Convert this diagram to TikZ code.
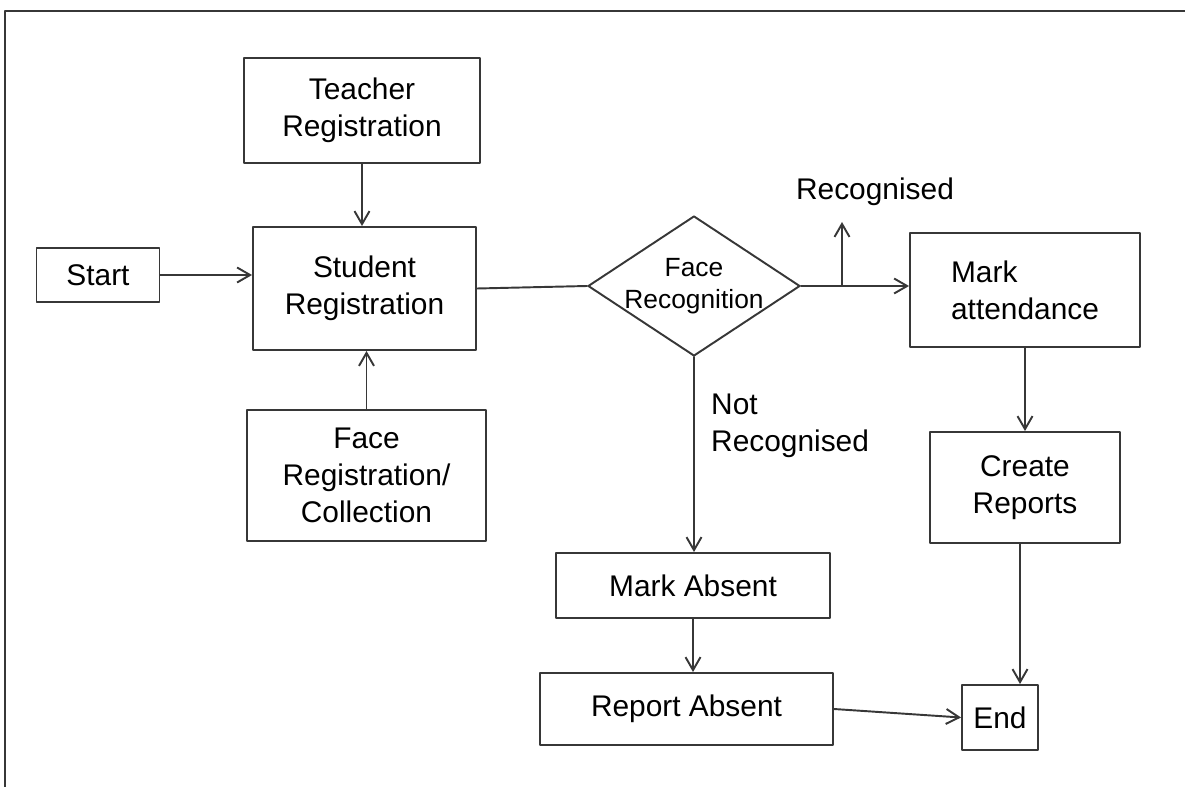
\documentclass[tikz,border=0pt]{standalone}
\usepackage{fontspec}
\setmainfont{Liberation Sans}
\usepackage{tikz}
\usetikzlibrary{arrows.meta, positioning, shapes, calc, shapes.geometric}
\definecolor{inkgray}{RGB}{55, 55, 55}
\tikzset{every node/.style={font=\fontsize{17}{21}\selectfont, text=black}, every path/.style={line cap=round, line join=round}, >={Straight Barb[length=2.6mm, width=3mm]}}
\tikzset{
    procbox/.style={draw=inkgray, line width=1.1pt, align=center, inner sep=2pt},
    decision/.style={draw=inkgray, line width=1.1pt, diamond, inner sep=0pt},
    flow/.style={draw=inkgray, line width=1.1pt}
}

\begin{document}
\begin{tikzpicture}
    \useasboundingbox (0,0) rectangle (23.7,-15.74);
    % frame of the page
    \coordinate (frameNW) at (0.1,-0.22);
    \coordinate (frameNE) at (23.7,-0.22);
    \coordinate (frameSW) at (0.1,-15.74);
    \draw [inkgray, line width=1pt] (frameSW) -- (frameNW) -- (frameNE);

    % boxes
    \node [procbox, minimum width=2.46cm, minimum height=1.08cm] (start) at (1.96,-5.5) {Start};
    \node [procbox, minimum width=4.72cm, minimum height=2.1cm] (teacher) at (7.24,-2.21) {Teacher\\Registration};
    \node [procbox, minimum width=4.46cm, minimum height=2.46cm] (student) at (7.29,-5.77) {Student\\Registration};
    \node [procbox, minimum width=4.78cm, minimum height=2.62cm] (facereg) at (7.33,-9.51) {Face\\Registration/\\Collection};
    \node [decision, minimum width=4.24cm, minimum height=2.8cm] (recog) at (13.88,-5.72) {};
    \node [align=center, font=\fontsize{15}{18}\selectfont] (recogtext) at (recog) {Face\\Recognition};
    \node [procbox, minimum width=4.6cm, minimum height=2.28cm, align=left] (markatt) at (20.5,-5.8) {Mark\\attendance};
    \node [procbox, minimum width=3.8cm, minimum height=2.22cm] (createrep) at (20.5,-9.75) {Create\\Reports};
    \node [procbox, minimum width=5.48cm, minimum height=1.3cm] (markabs) at (13.86,-11.71) {Mark Absent};
    \node [procbox, minimum width=5.86cm, minimum height=1.44cm] (repabs) at (13.73,-14.18) {Report Absent};
    \node [procbox, minimum width=1.52cm, minimum height=1.3cm] (endn) at (20,-14.35) {End};

    % labels
    \node (recoglbl) at (17.5,-3.84) {Recognised};
    \node [align=left, anchor=north west] (notrecoglbl) at (14.1,-7.75) {Not\\Recognised};

    % connectors
    \draw [flow, ->] (start.east) -- (start.east -| student.west);
    \draw [flow, ->] (teacher.south) -- (teacher.south |- student.north);
    \draw [flow, ->] (facereg.north) -- (facereg.north |- student.south);
    \draw [flow] (student.east) -- (recog.west);
    \draw [flow, ->] (recog.east) -- (recog.east -| markatt.west);
    \coordinate (rbranch) at (16.84,-5.72);
    \coordinate (rtip) at (16.84,-4.44);
    \draw [flow, ->] (rbranch) -- (rtip);
    \draw [flow, ->] (recog.south) -- (recog.south |- markabs.north);
    \draw [flow, ->] (markabs.south) -- (markabs.south |- repabs.north);
    \draw [flow, ->] (markatt.south) -- (markatt.south |- createrep.north);
    \draw [flow, ->] ([xshift=-1mm]createrep.south) -- ([xshift=-1mm]createrep.south |- endn.north);
    \draw [flow, ->] (repabs.east) -- (endn.west);
\end{tikzpicture}
\end{document}
